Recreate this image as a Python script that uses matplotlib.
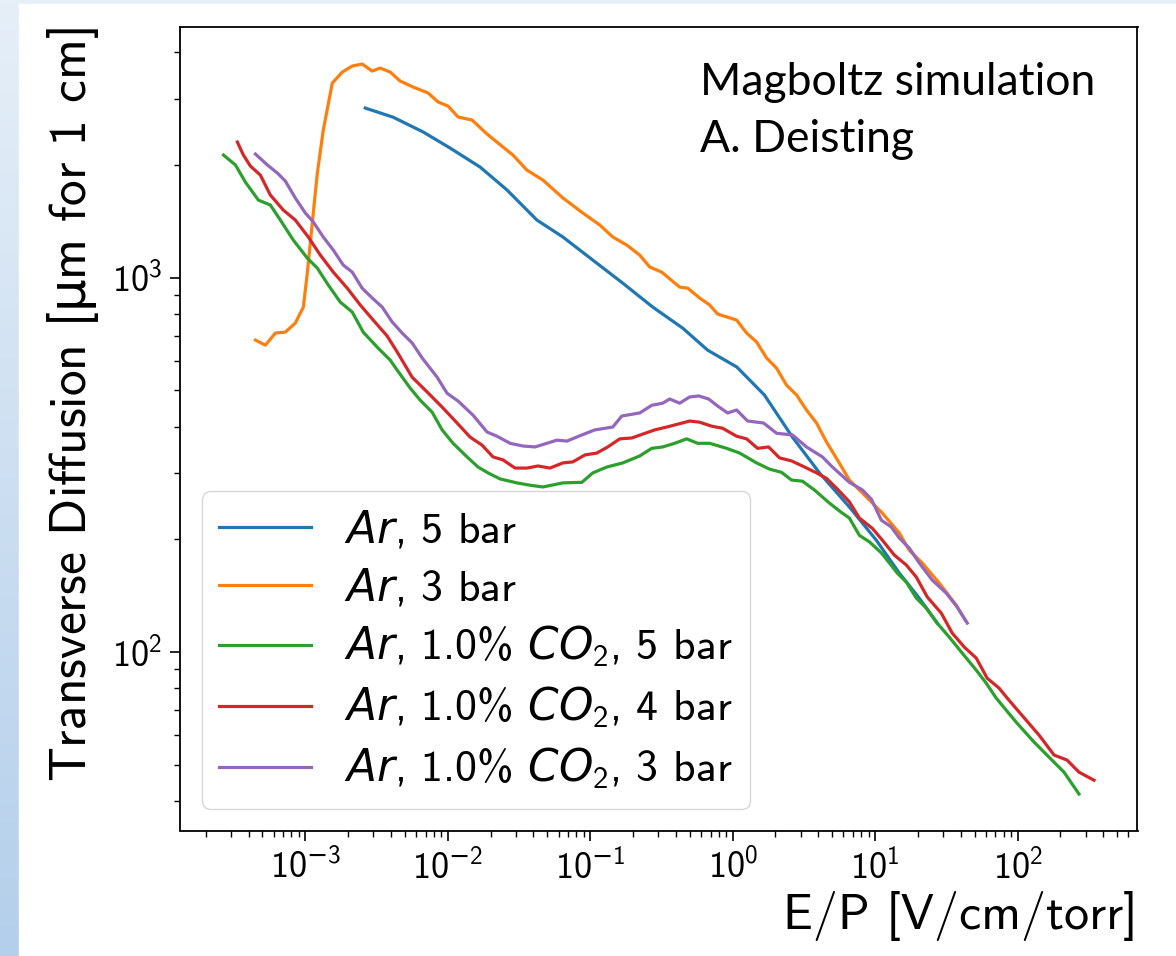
import numpy as np
import matplotlib
matplotlib.use('Agg')
import matplotlib.pyplot as plt
from matplotlib.colors import LinearSegmentedColormap
from matplotlib.patches import Rectangle
from matplotlib.ticker import FuncFormatter, NullFormatter

plt.rcParams['font.family'] = ['cmss10', 'DejaVu Sans']
plt.rcParams['mathtext.fontset'] = 'custom'
plt.rcParams['mathtext.rm'] = 'cmss10'
plt.rcParams['mathtext.sf'] = 'DejaVu Sans'   # used only for the minus sign and the mu
plt.rcParams['mathtext.it'] = 'DejaVu Sans:italic'
plt.rcParams['axes.unicode_minus'] = False

# E/P [V/cm/torr] and transverse diffusion [um for 1 cm]
ar5_x = [2.64e-3, 4.14e-3, 6.73e-3, 1.04e-2, 1.69e-2, 2.61e-2, 4.23e-2, 6.44e-2, 0.1045, 0.169, 0.275,
         0.446, 0.668, 1.07, 1.67, 2.63, 4.07, 6.6, 10.2, 14.8, 20.4, 27.3]
ar5_y = [2835, 2680, 2447, 2217, 1972, 1713, 1424, 1283, 1113, 967, 834,
         733, 640, 577, 486, 375, 301, 244, 199, 162.5, 139.4, 119.5]

ar3_x = [4.47e-4, 5.25e-4, 6.17e-4, 7.25e-4, 8.52e-4, 9.70e-4, 1.034e-3, 1.121e-3, 1.216e-3, 1.339e-3,
         1.549e-3, 1.82e-3, 2.138e-3, 2.51e-3, 2.953e-3, 3.36e-3, 3.95e-3, 4.64e-3, 5.72e-3, 7.29e-3,
         8.57e-3, 1.006e-2, 1.183e-2, 1.483e-2, 1.888e-2, 2.444e-2, 2.872e-2, 3.60e-2, 4.66e-2, 6.44e-2,
         8.89e-2, 0.117, 0.1442, 0.1808, 0.2229, 0.262, 0.318, 0.425, 0.484, 0.587,
         0.690, 0.785, 1.067, 1.254, 1.473, 1.731, 2.034, 2.39, 2.81, 3.30,
         3.88, 4.56, 5.44, 6.60, 8.15, 11.25, 14.8, 17.39, 21.45, 28.2, 37.1, 42.9]
ar3_y = [681, 660, 711, 715, 756, 834, 1028, 1398, 1901, 2477,
         3306, 3537, 3671, 3717, 3559, 3625, 3537, 3347, 3226, 3110,
         2942, 2870, 2683, 2634, 2417, 2231, 2124, 1936, 1821, 1631,
         1487, 1381, 1283, 1221, 1148, 1067, 1034, 943, 937, 882,
         845, 799, 770, 711, 673, 610, 573, 516, 486, 443,
         409, 364, 326, 288, 266, 235, 208, 187, 172.9, 152.9, 133.5, 121.8]

co2_5_x = [2.67e-4, 3.24e-4, 3.80e-4, 4.69e-4, 5.69e-4, 6.69e-4, 8.25e-4, 1.034e-3, 1.216e-3, 1.452e-3,
           1.762e-3, 2.138e-3, 2.553e-3, 3.25e-3, 3.95e-3, 4.42e-3, 5.45e-3, 6.40e-3, 7.78e-3, 9.14e-3,
           1.091e-2, 1.368e-2, 1.633e-2, 1.919e-2, 2.33e-2, 3.06e-2, 3.78e-2, 4.66e-2, 6.44e-2, 8.75e-2,
           0.1044, 0.131, 0.1695, 0.2229, 0.2706, 0.323, 0.392, 0.476, 0.568, 0.690,
           0.908, 1.12, 1.473, 1.816, 2.205, 2.59, 3.09, 3.75, 4.78, 5.80,
           6.60, 7.76, 9.12, 11.07, 12.6, 14.33, 16.57, 19.47, 22.88, 27.3,
           33.2, 40.9, 51.3, 60.3, 70.8, 97.8, 130.7, 166.5, 212, 270]
co2_5_y = [2124, 1997, 1799, 1610, 1562, 1424, 1259, 1127, 1060, 955,
           860, 809, 715, 648, 602, 566, 507, 471, 437, 392,
           361, 332, 312, 301, 290, 283, 279, 276, 283, 284,
           301, 312, 320, 334, 350, 353, 361, 371, 361, 361,
           350, 340, 320, 308, 302, 288, 286, 271, 250, 236,
           228, 205, 197, 184, 173, 162.5, 153.8, 139.4, 131.1, 119.5,
           109.6, 99.4, 89.5, 82.6, 75.4, 65.0, 57.5, 52.4, 47.8, 41.8]

co2_4_x = [3.34e-4, 3.68e-4, 4.12e-4, 4.84e-4, 5.69e-4, 7.02e-4, 8.52e-4, 1.051e-3, 1.276e-3, 1.574e-3,
           1.972e-3, 2.432e-3, 3.00e-3, 3.76e-3, 4.42e-3, 5.63e-3, 7.17e-3, 9.14e-3, 1.164e-2, 1.436e-2,
           1.742e-2, 2.08e-2, 2.444e-2, 2.97e-2, 3.60e-2, 4.30e-2, 5.22e-2, 6.44e-2, 7.56e-2, 9.18e-2,
           0.1114, 0.133, 0.1614, 0.196, 0.234, 0.284, 0.345, 0.412, 0.4996, 0.587,
           0.713, 0.851, 1.067, 1.254, 1.497, 1.788, 2.135, 2.59, 3.09, 3.88,
           4.56, 5.36, 6.60, 7.76, 9.57, 11.25, 13.65, 16.57, 19.47, 23.26,
           29.15, 34.8, 42.3, 51.3, 61.2, 74.3, 84.6, 102.6, 141.7, 180.5,
           222.6, 270, 344]
co2_4_y = [2300, 2124, 1985, 1878, 1661, 1514, 1424, 1283, 1148, 1034,
           937, 845, 770, 698, 633, 542, 495, 451, 409, 375,
           357, 332, 326, 310, 310, 314, 310, 320, 322, 336,
           340, 353, 371, 373, 382, 392, 399, 406, 414, 411,
           401, 396, 377, 371, 350, 353, 330, 324, 314, 301,
           291, 274, 252, 228, 214, 199, 181.6, 170.8, 158.6, 140.3,
           127.1, 112.4, 103.1, 96.4, 85.2, 80.1, 75.4, 69.2, 60.0, 53.1,
           51.5, 47.8, 45.5]

co2_3_x = [4.47e-4, 5.43e-4, 6.38e-4, 7.25e-4, 8.52e-4, 1.002e-3, 1.14e-3, 1.339e-3, 1.574e-3, 1.849e-3,
           2.138e-3, 2.51e-3, 2.953e-3, 3.47e-3, 4.08e-3, 4.79e-3, 5.63e-3, 6.62e-3, 8.43e-3, 9.90e-3,
           1.183e-2, 1.507e-2, 1.888e-2, 2.22e-2, 2.74e-2, 3.38e-2, 4.10e-2, 4.97e-2, 5.84e-2, 6.87e-2,
           8.75e-2, 0.1079, 0.1442, 0.1668, 0.2229, 0.2706, 0.323, 0.362, 0.425, 0.4996,
           0.578, 0.679, 0.785, 0.923, 1.067, 1.274, 1.649, 2.034, 2.633, 3.30,
           4.27, 5.02, 6.60, 8.15, 9.42, 11.07, 13.01, 14.8, 17.39, 20.44,
           25.2, 31.6, 37.7, 44.4]
co2_3_y = [2137, 1997, 1901, 1810, 1631, 1487, 1407, 1283, 1184, 1080,
           1034, 937, 882, 834, 761, 711, 669, 610, 542, 491,
           468, 429, 387, 377, 361, 355, 353, 361, 368, 366,
           380, 392, 399, 427, 435, 456, 462, 474, 462, 480,
           483, 474, 454, 435, 443, 414, 409, 384, 380, 353,
           332, 312, 284, 271, 256, 225, 215.7, 201.6, 189.5, 172.9,
           155.7, 143.7, 131.9, 119.5]

labels = [r'$Ar$, 5 bar', r'$Ar$, 3 bar', r'$Ar$, 1.0% $CO_2$, 5 bar',
          r'$Ar$, 1.0% $CO_2$, 4 bar', r'$Ar$, 1.0% $CO_2$, 3 bar']


def log_fmt(v, pos):
    e = int(round(np.log10(v)))
    if e < 0:
        return r'$10^{\mathsf{-}%d}$' % (-e)
    return r'$10^{%d}$' % e


W, H = 1176, 956
fig = plt.figure(figsize=(W / 100, H / 100), dpi=100)

# slide background: bluish strip on the left / top, white picture area
bg = fig.add_axes([0, 0, 1, 1], zorder=-10)
grad = np.linspace(0, 1, 256).reshape(-1, 1)
cmap = LinearSegmentedColormap.from_list('slide', ['#e6eff8', '#b4cfeb'])
bg.imshow(grad, aspect='auto', cmap=cmap, extent=[0, 1, 0, 1], origin='upper')
bg.add_patch(Rectangle((19 / W, 0), 1 - 19 / W, 1 - 4 / H, color='white', transform=bg.transAxes))
bg.set_xlim(0, 1)
bg.set_ylim(0, 1)
bg.axis('off')

ax = fig.add_axes([180 / W, 1 - 830.5 / H, (1137.5 - 180) / W, (830.5 - 27.5) / H])
ax.set_facecolor('white')

series = [(ar5_x, ar5_y), (ar3_x, ar3_y), (co2_5_x, co2_5_y), (co2_4_x, co2_4_y), (co2_3_x, co2_3_y)]
colors = ['#1f77b4', '#ff7f0e', '#2ca02c', '#d62728', '#9467bd']
for (xs, ys), lab, c in zip(series, labels, colors):
    ax.plot(xs, ys, color=c, lw=2.3, label=lab)

ax.set_xscale('log')
ax.set_yscale('log')
for axis in (ax.xaxis, ax.yaxis):
    axis.set_major_formatter(FuncFormatter(log_fmt))
    axis.set_minor_formatter(NullFormatter())

for s in ax.spines.values():
    s.set_linewidth(1.3)
ax.tick_params(which='major', length=7, width=1.2, labelsize=26, pad=6)
ax.tick_params(which='minor', length=4, width=1.0)

ax.set_xlabel('E/P [V/cm/torr]', fontsize=36, loc='right', labelpad=4)
ax.set_ylabel(r'Transverse Diffusion [$\mathsf{\mu}$m for 1 cm]', fontsize=37, loc='top', labelpad=8)

ax.legend(loc='lower left', fontsize=31.5, handlelength=2.1, handletextpad=0.75,
          borderaxespad=0.5, labelspacing=0.36, framealpha=0.8, edgecolor='0.8')

fig.text(700 / W, 1 - 95 / H, 'Magboltz simulation', fontsize=32, family='Lato', va='baseline')
fig.text(700 / W, 1 - 152 / H, 'A. Deisting', fontsize=32, family='Lato', va='baseline')

fig.savefig('out.png', dpi=100)
